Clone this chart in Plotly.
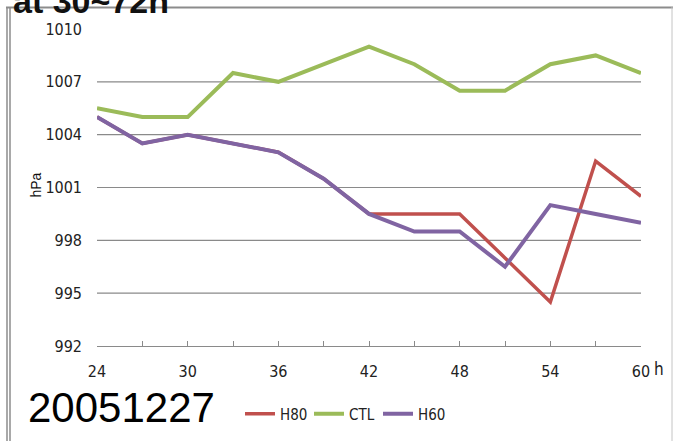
import plotly.graph_objects as go

# Forecast hours and sea-level pressure (hPa) for three experiments
hours = [24, 27, 30, 33, 36, 39, 42, 45, 48, 51, 54, 57, 60]
h80 = [1005, 1003.5, 1004, 1003.5, 1003, 1001.5, 999.5, 999.5, 999.5, 997, 994.5, 1002.5, 1000.5]
ctl = [1005.5, 1005, 1005, 1007.5, 1007, 1008, 1009, 1008, 1006.5, 1006.5, 1008, 1008.5, 1007.5]
h60 = [1005, 1003.5, 1004, 1003.5, 1003, 1001.5, 999.5, 998.5, 998.5, 996.5, 1000, 999.5, 999]

y_ticks = [992, 995, 998, 1001, 1004, 1007, 1010]
x_ticks = [24, 30, 36, 42, 48, 54, 60]
grid_levels = [995, 998, 1001, 1004, 1007]

W, H = 675, 441
L, R, T, B = 97, 34, 29, 94
PW, PH = W - L - R, H - T - B


def px(x):
    return (x - L) / PW


def py(y):
    return (H - B - y) / PH


NARROW = "Liberation Sans Narrow, Arial Narrow, DejaVu Sans Condensed, Liberation Sans, sans-serif"

fig = go.Figure()
fig.add_trace(go.Scatter(x=hours, y=h80, name="H80", mode="lines",
                         line=dict(color="#C0504D", width=3.5)))
fig.add_trace(go.Scatter(x=hours, y=ctl, name="CTL", mode="lines",
                         line=dict(color="#9BBB59", width=4)))
fig.add_trace(go.Scatter(x=hours, y=h60, name="H60", mode="lines",
                         line=dict(color="#8064A2", width=4)))

shapes = []
for g in grid_levels:
    shapes.append(dict(type="line", xref="paper", yref="y", x0=0, x1=1, y0=g, y1=g,
                       line=dict(color="#8a8a8a", width=1.2), layer="below"))
# slide frame
frame = "#8c8c8c"
shapes += [
    dict(type="line", xref="paper", yref="paper", x0=px(7), x1=px(7), y0=py(7), y1=py(445),
         line=dict(color=frame, width=1.5)),
    dict(type="line", xref="paper", yref="paper", x0=px(10), x1=px(10), y0=py(7), y1=py(445),
         line=dict(color=frame, width=1.5)),
    dict(type="line", xref="paper", yref="paper", x0=px(6), x1=px(673), y0=py(7.5), y1=py(7.5),
         line=dict(color=frame, width=2)),
    dict(type="line", xref="paper", yref="paper", x0=px(672), x1=px(672), y0=py(7), y1=py(445),
         line=dict(color="#c4c4c4", width=1)),
]

annotations = [
    dict(text="<b>at 30~72h</b>", xref="paper", yref="paper", x=px(11), y=py(1),
         xanchor="left", yanchor="middle", showarrow=False,
         font=dict(family="Liberation Sans, Arial, sans-serif", size=34, color="#111")),
    dict(text="20051227", xref="paper", yref="paper", x=px(121), y=py(409),
         xanchor="center", yanchor="middle", showarrow=False,
         font=dict(family="Liberation Sans, Arial, sans-serif", size=42, color="#000")),
    dict(text="h", xref="paper", yref="paper", x=px(659), y=py(370),
         xanchor="center", yanchor="middle", showarrow=False,
         font=dict(family=NARROW, size=17, color="#222")),
    dict(text="hPa", xref="paper", yref="paper", x=px(36), y=py(186), textangle=-90,
         xanchor="center", yanchor="middle", showarrow=False,
         font=dict(family="Liberation Sans, Arial, sans-serif", size=14, color="#111")),
]

fig.update_layout(
    width=W, height=H,
    margin=dict(l=L, r=R, t=T, b=B),
    paper_bgcolor="white", plot_bgcolor="white",
    shapes=shapes, annotations=annotations,
    showlegend=True,
    legend=dict(orientation="h", x=px(240), y=py(414), xanchor="left", yanchor="middle",
                font=dict(family=NARROW, size=15, color="#222"),
                itemwidth=30, entrywidth=24, bgcolor="rgba(0,0,0,0)"),
    xaxis=dict(range=[24, 60], tickvals=x_ticks, showgrid=False, zeroline=False,
               showline=True, linecolor="#8a8a8a", linewidth=1.2,
               ticks="inside", ticklen=5, tickcolor="#8a8a8a",
               minor=dict(dtick=3, tick0=24, ticks="inside", ticklen=5, tickcolor="#8a8a8a"),
               tickfont=dict(family=NARROW, size=16, color="#222"), ticklabelstandoff=11),
    yaxis=dict(range=[992, 1010], tickvals=y_ticks, showgrid=False, zeroline=False,
               showline=False, ticks="",
               tickfont=dict(family=NARROW, size=16, color="#222"), ticklabelstandoff=14),
)

fig.write_html("out.html")
